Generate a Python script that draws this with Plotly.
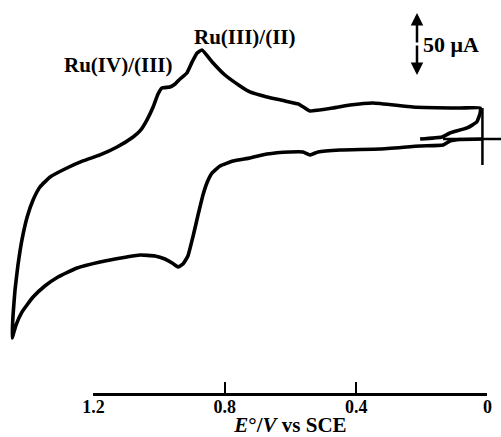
import plotly.graph_objects as go

# Cyclic voltammogram (potential in V vs SCE, current in microamps)
potential_V = [0.207, 0.140, 0.116, 0.064, 0.034, 0.024, 0.024, 0.085, 0.229, 0.351,
               0.421, 0.473, 0.543, 0.558, 0.579, 0.619, 0.674, 0.726, 0.756, 0.802,
               0.841, 0.872, 0.887, 0.902, 0.918, 0.939, 0.954, 0.970, 0.994, 1.006,
               1.021, 1.040, 1.061, 1.082, 1.131, 1.183, 1.235, 1.290, 1.335, 1.366,
               1.387, 1.405, 1.421, 1.433, 1.442, 1.448, 1.451,
               1.439, 1.421, 1.387, 1.351, 1.311, 1.253, 1.183, 1.137, 1.101, 1.061,
               1.015, 0.985, 0.963, 0.945, 0.930, 0.915, 0.899, 0.884, 0.869, 0.857,
               0.841, 0.817, 0.777, 0.726, 0.674, 0.604, 0.564, 0.543, 0.518, 0.451,
               0.329, 0.207, 0.137, 0.116, 0.085, 0.015]
current_uA = [0.0, 1.7, 5.0, 9.2, 14.2, 21.7, 25.8, 25.8, 26.7, 30.0,
              28.3, 25.8, 23.3, 25.8, 29.2, 31.7, 35.0, 39.2, 44.2, 53.3,
              64.2, 74.2, 71.7, 64.2, 55.0, 50.0, 45.8, 43.3, 42.5, 37.5,
              26.7, 15.8, 6.7, 1.7, -6.7, -13.3, -18.3, -25.0, -31.7, -40.0,
              -50.8, -65.0, -84.2, -105.0, -125.8, -146.7, -165.8,
              -155.0, -144.2, -131.7, -122.5, -115.0, -107.5, -102.5, -100.0, -98.3, -96.7,
              -97.5, -100.0, -103.3, -106.7, -104.2, -97.5, -80.8, -63.3, -46.7, -36.7,
              -28.3, -22.5, -18.3, -15.8, -12.5, -10.8, -10.8, -13.3, -10.8, -9.2,
              -8.3, -5.8, -5.0, -1.7, -0.4, 0.0]

# zero-current / start-potential cross marker
cross_h_V = [0.137, -0.040]
cross_h_uA = [0.0, 0.0]
cross_v_V = [0.017, 0.017]
cross_v_uA = [25.8, -21.7]

tick_vals = [1.2, 0.8, 0.4, 0.0]
tick_text = ["1.2", "0.8", "0.4", "0"]

peak_labels = ["Ru(III)/(II)", "Ru(IV)/(III)"]
scale_label = "50 \u03bcA"

SERIF = "Liberation Serif, Times New Roman, serif"

fig = go.Figure()
fig.add_trace(go.Scatter(x=potential_V, y=current_uA, mode="lines",
                         line=dict(color="black", width=3.6, shape="spline", smoothing=0.4),
                         showlegend=False, hoverinfo="skip"))
fig.add_trace(go.Scatter(x=cross_h_V, y=cross_h_uA, mode="lines",
                         line=dict(color="black", width=2.5), showlegend=False, hoverinfo="skip"))
fig.add_trace(go.Scatter(x=cross_v_V, y=cross_v_uA, mode="lines",
                         line=dict(color="black", width=2.5), showlegend=False, hoverinfo="skip"))
# carrier trace for the potential scale axis
fig.add_trace(go.Scatter(x=[tick_vals[0], tick_vals[-1]], y=[-1000, -1000], xaxis="x2",
                         mode="markers", marker=dict(opacity=0), showlegend=False, hoverinfo="skip"))

fig.update_layout(
    template="none",
    width=501, height=437,
    margin=dict(l=0, r=0, t=0, b=0, pad=0),
    paper_bgcolor="white", plot_bgcolor="rgba(0,0,0,0)",
    font=dict(family=SERIF, color="black"),
    xaxis=dict(range=[1.4878, -0.0396], visible=False, domain=[0, 1], automargin=False),
    yaxis=dict(range=[-248.3, 115.8], visible=False, domain=[0, 1], automargin=False),
    xaxis2=dict(domain=[0.1866, 0.973], range=[1.2, 0.0], anchor="free", position=0.0995,
                automargin=False,
                showline=True, linecolor="black", linewidth=2.5,
                ticks="inside", ticklen=11, tickwidth=2, tickcolor="black",
                tickvals=tick_vals, ticktext=["<b>" + t + "</b>" for t in tick_text],
                ticklabelstandoff=-4,
                showgrid=False, zeroline=False,
                tickfont=dict(family=SERIF, size=18, color="black"),
                title=dict(text="<b><i>E</i>\u00b0/<i>V</i> vs SCE</b>",
                           font=dict(family=SERIF, size=21, color="black"), standoff=0)),
)

fig.add_annotation(x=245 / 501, y=1 - 37 / 437, xref="paper", yref="paper",
                   xanchor="center", yanchor="middle",
                   text="<b>" + peak_labels[0] + "</b>", showarrow=False,
                   font=dict(family=SERIF, size=21, color="black"))
fig.add_annotation(x=118 / 501, y=1 - 65 / 437, xref="paper", yref="paper",
                   xanchor="center", yanchor="middle",
                   text="<b>" + peak_labels[1] + "</b>", showarrow=False,
                   font=dict(family=SERIF, size=21, color="black"))
fig.add_annotation(x=421 / 501, y=1 - 44 / 437, xref="paper", yref="paper",
                   xanchor="left", yanchor="middle",
                   text="<b>" + scale_label + "</b>", showarrow=False,
                   font=dict(family=SERIF, size=22, color="black"))
# double-headed scale arrow
for yy, ay in [(1 - 13 / 437, 31), (1 - 75 / 437, -31)]:
    fig.add_annotation(x=417 / 501, y=yy, xref="paper", yref="paper", text="",
                       showarrow=True, arrowhead=2, arrowsize=1, arrowwidth=2.5,
                       arrowcolor="black", ax=0, ay=ay)

fig.write_html("out.html")
